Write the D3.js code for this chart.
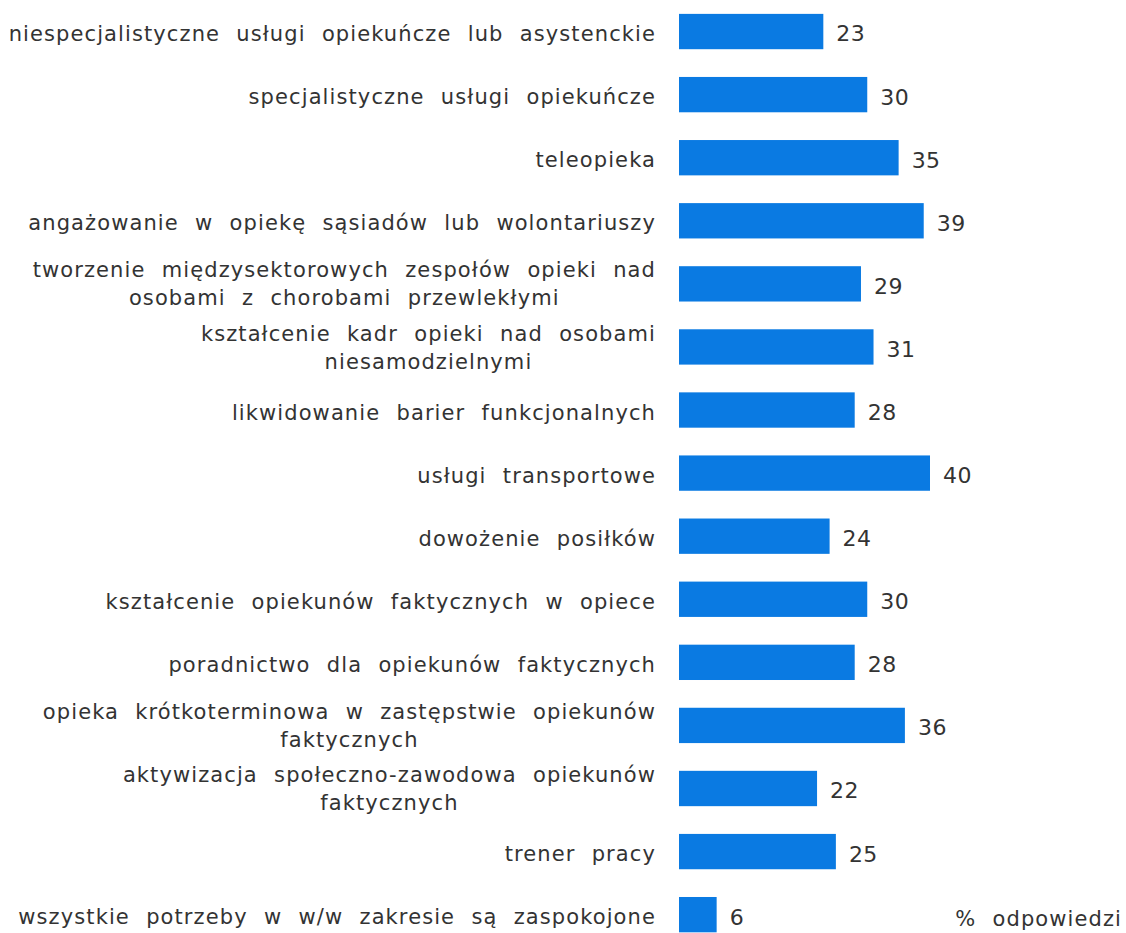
<!DOCTYPE html>
<html>
<head>
<meta charset="utf-8">
<script src="https://cdn.jsdelivr.net/npm/d3@7/dist/d3.min.js"></script>
<style>
  html, body { margin: 0; padding: 0; background: #fff; }
  svg { display: block; }
  text {
    font-family: "DejaVu Sans", Verdana, sans-serif;
    fill: #333;
  }
  .cat, .unit { font-size: 21px; letter-spacing: 1.1px; word-spacing: 8.5px; }
  .val { font-size: 22px; letter-spacing: 0.5px; }
</style>
</head>
<body>
<svg id="chart" width="1126" height="933"></svg>
<script>
// Categories (each entry is the list of label lines)
const categories = [
  ["niespecjalistyczne usługi opiekuńcze lub asystenckie"],
  ["specjalistyczne usługi opiekuńcze"],
  ["teleopieka"],
  ["angażowanie w opiekę sąsiadów lub wolontariuszy"],
  ["tworzenie międzysektorowych zespołów opieki nad", "osobami z chorobami przewlekłymi"],
  ["kształcenie kadr opieki nad osobami", "niesamodzielnymi"],
  ["likwidowanie barier funkcjonalnych"],
  ["usługi transportowe"],
  ["dowożenie posiłków"],
  ["kształcenie opiekunów faktycznych w opiece"],
  ["poradnictwo dla opiekunów faktycznych"],
  ["opieka krótkoterminowa w zastępstwie opiekunów", "faktycznych"],
  ["aktywizacja społeczno-zawodowa opiekunów", "faktycznych"],
  ["trener pracy"],
  ["wszystkie potrzeby w w/w zakresie są zaspokojone"]
];
const values = [23, 30, 35, 39, 29, 31, 28, 40, 24, 30, 28, 36, 22, 25, 6];
const unitLabel = "% odpowiedzi";

const svg = d3.select("#chart");
const barLeft = 679;
const labelRight = 656;

const x = d3.scaleLinear().domain([0, 40]).range([barLeft, barLeft + 251]);
const y = d3.scaleBand()
  .domain(d3.range(values.length))
  .range([0, 63.08 * values.length])
  .paddingInner(0.44)
  .paddingOuter(0.22);

const rows = svg.selectAll("g.row")
  .data(values.map((v, i) => ({ v, i, lines: categories[i] })))
  .join("g").attr("class", "row");

rows.append("rect")
  .attr("x", x(0))
  .attr("y", d => y(d.i))
  .attr("width", d => x(d.v) - x(0))
  .attr("height", y.bandwidth())
  .attr("fill", "#0a7ae2");

rows.append("text")
  .attr("class", "val")
  .attr("x", d => x(d.v) + 13)
  .attr("y", d => y(d.i) + y.bandwidth() / 2 + 2)
  .attr("dy", "0.36em")
  .text(d => d.v);

// Category labels: block right-aligned, lines centred within the block
const lineH = 28;
rows.each(function (d) {
  const g = d3.select(this);
  const n = d.lines.length;
  const cy = y(d.i) + y.bandwidth() / 2 + (n === 1 ? 2 : 0);
  const t = g.append("text").attr("class", "cat").attr("text-anchor", "middle");
  const spans = t.selectAll("tspan").data(d.lines).join("tspan").text(s => s);
  let maxW = 0;
  spans.each(function () { maxW = Math.max(maxW, this.getComputedTextLength()); });
  spans
    .attr("x", labelRight - maxW / 2)
    .attr("y", (s, k) => cy + (k - (n - 1) / 2) * lineH)
    .attr("dy", "0.36em");
});

svg.append("text")
  .attr("class", "unit")
  .attr("x", 1122)
  .attr("y", 926)
  .attr("text-anchor", "end")
  .text(unitLabel);
</script>
</body>
</html>
